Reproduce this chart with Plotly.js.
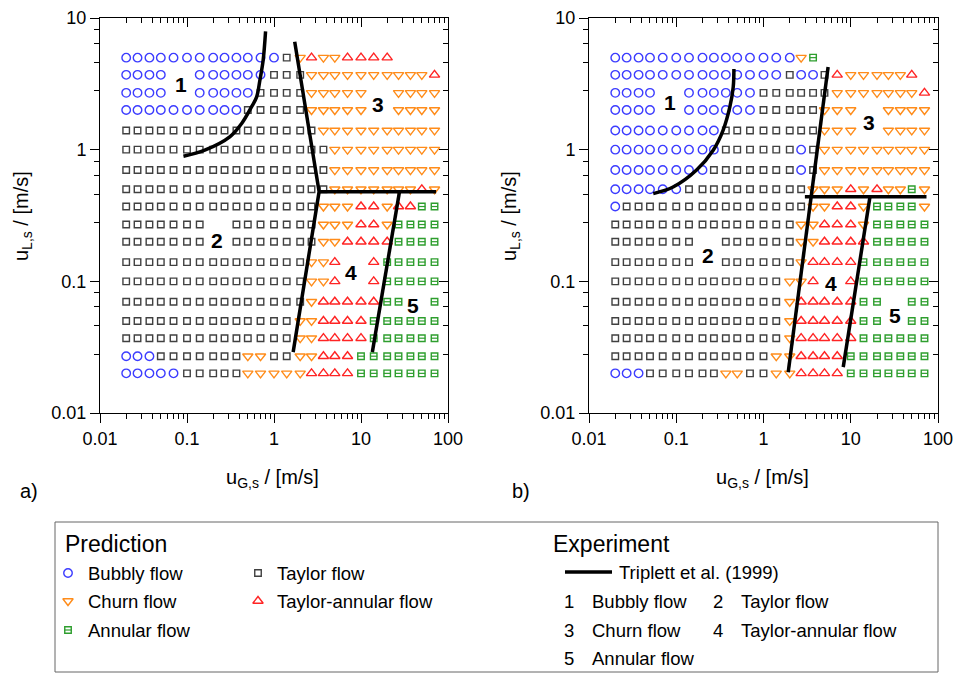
<!DOCTYPE html>
<html><head><meta charset="utf-8">
<script src="https://cdn.plot.ly/plotly-3.0.1.min.js"></script>
<style>html,body{margin:0;padding:0;background:#fff}#chart{width:955px;height:675px}</style>
</head><body><div id="chart"></div>
<script>
// ---------------- DATA ----------------
// superficial gas velocity grid (columns) and liquid velocity grid (rows), m/s
const uGs = [0.02,0.027,0.037,0.05,0.07,0.1,0.14,0.2,0.27,0.37,0.5,0.7,1,1.4,2,2.7,3.7,5,7,10,14,20,27,37,50,70];
const uLs = [5,3.7,2.7,2,1.4,1,0.7,0.5,0.37,0.27,0.2,0.14,0.1,0.07,0.05,0.037,0.027,0.02];
// predicted regime per cell: B bubbly, T Taylor, C churn, R Taylor-annular, A annular, . none
const predA = [
 "BBBBBBBBBBBBBTCRCCRRRR....",
 "BBBB..BBBBBBTTTCCCCCCCCCCR",
 "BBBB..BBBBBTTTTCCCCC..CCCC",
 "BBBBBBBBBBTTTTTCCCCC..CCCC",
 "TTTTTTTTTTTTTTTTCCCCCCCCCC",
 "TTTTTTTTTTTTTTTTTCCCCCCCCC",
 "TTTTTTTTTTTTTTTTTCCCCCCCCC",
 "TTTTTTTTTTTTTTTTTCCCCCCCRC",
 "TTTTTTTTTTTTTTTTCCCRRCRRAA",
 "TTTTTTT..TTTTTTTCCCRRCAAAA",
 "TTTTTTT..TTTTTTTCCRRRRAAAA",
 "TTTTTTTTTTTTTTTCCR..RAAAAA",
 "TTTTTTTTTTTTTTTCCR..RAAAAA",
 "TTTTTTTTTTTTTTTCRRRRRAA..A",
 "TTTTTTTTTTTTTTCCRRRRAAAAAA",
 "TTTTTTTTTTTTTTCCRRRRAAAAAA",
 "BBBTTTTTTTCCTTCCRRRAAAAAAA",
 "BBBBBTTTTTCCCCCRRRRAAAAAAA"
];
const predB = [
 "BBBBBBBBBBBBBBBCA.........",
 "BBBBBBBBBBBBBBTBBTRCCCCCR.",
 "BBBB..BBBBBBTTTTTTCCCCCCCR",
 "BBBB..BBBBBBTTTTTCCC..CCCC",
 "BBBBBBBBBTTTTTTTTCCC..CCCC",
 "BBBBBBBBBTTTTTTBTCCCCCCCCC",
 "BBBBBBBBTTTTTTTBTCCCCCCCCC",
 "BBBBBBTTTTTTTTTTCCCRCRCCAC",
 "BTTTTTTTTTTTTTTTCCRRCAAAAC",
 "TTTTTTTTTTTTTTTCCRRRCAAAAA",
 "TTTTTTT..TTTTTTCCRRRRAAAAA",
 "TTTTTTT..TTTTTTCRRRRAAAAAA",
 "TTTTTTTTTTTTTTCCR..RAAAAAA",
 "TTTTTTTTTTTTTTCRRRRRAA..AA",
 "TTTTTTTTTTTTTTCRRRRRAA..AA",
 "TTTTTTTTTTTTTTCRRRRRAAAAAA",
 "TTTTTTTTTTTTTCCRRRRAAAAAAA",
 "BBBTTTTTTCCTTCCRRRRAAAAAAA"
];
// Triplett et al. (1999) transition lines, panel a
const trA1x = [0.091,0.16,0.31,0.425,0.553,0.632,0.689,0.751,0.80];
const trA1y = [0.89,0.99,1.25,1.58,2.12,2.52,3.38,4.8,7.9];
const trA2x = [1.73,3.3,1.66];
const trA2y = [6.6,0.48,0.029];
const trA3x = [3.3,73];
const trA3y = [0.48,0.48];
const trA4x = [13.5,27.7];
const trA4y = [0.029,0.48];
// panel b
const trB1x = [0.0545,0.092,0.171,0.265,0.345,0.412,0.45,0.458];
const trB1y = [0.464,0.52,0.70,0.99,1.41,2.12,3.0,4.1];
const trB2x = [5.5,1.92];
const trB2y = [4.25,0.0204];
const trB3x = [2.98,73.8];
const trB3y = [0.438,0.438];
const trB4x = [8.2,16.6];
const trB4y = [0.0223,0.438];
// regime number labels
const zoneText = ['1','2','3','4','5'];
const zoneAx = [0.086,0.222,15.5,7.6,40];
const zoneAy = [3.15,0.205,2.22,0.117,0.066];
const zoneBx = [0.085,0.23,16.1,5.9,32];
const zoneBy = [2.3,0.158,1.62,0.097,0.055];
const tickVals = [0.01,0.1,1,10,100];
const tickText = ['0.01','0.1','1','10','100'];
const yTickVals = [0.01,0.1,1,10];
const yTickText = ['0.01','0.1','1','10'];

// ---------------- STYLE ----------------
const FONT = 'Liberation Sans, Arial, sans-serif';
const COL = {B:'#3c3cff', T:'#404040', C:'#ff8c1a', R:'#ff2424', A:'#2e9e2e'};
const regimes = {
  B:{symbol:'circle-open', size:8.5, color:COL.B},
  T:{symbol:'square-open', size:6.5, color:COL.T},
  C:{symbol:'triangle-down-open', size:9, color:COL.C},
  R:{symbol:'triangle-up-open', size:9, color:COL.R},
  A:{symbol:'square-open', size:6.5, color:COL.A}
};

const traces = [];
function addPanel(grid, xa, ya){
  ['B','T','C','R','A'].forEach(code=>{
    const xs=[], ys=[];
    grid.forEach((row,i)=>{ for(let j=0;j<row.length;j++){ if(row[j]===code){ xs.push(uGs[j]); ys.push(uLs[i]); } } });
    const st = regimes[code];
    traces.push({x:xs,y:ys,xaxis:xa,yaxis:ya,mode:'markers',type:'scatter',showlegend:false,hoverinfo:'skip',
      marker:{symbol:st.symbol,size:st.size,color:st.color,line:{width:1.4,color:st.color}}});
    if(code==='A'){
      traces.push({x:xs,y:ys,xaxis:xa,yaxis:ya,mode:'markers',type:'scatter',showlegend:false,hoverinfo:'skip',
        marker:{symbol:'line-ew-open',size:5,color:st.color,line:{width:1.2,color:st.color}}});
    }
  });
}
addPanel(predA,'x','y');
addPanel(predB,'x2','y2');

function addLine(xs,ys,xa,ya,spline){
  traces.push({x:xs,y:ys,xaxis:xa,yaxis:ya,mode:'lines',type:'scatter',showlegend:false,hoverinfo:'skip',
    line:{color:'#000',width:3.5,shape:spline?'spline':'linear'}});
}
addLine(trA1x,trA1y,'x','y',true);
addLine(trA2x,trA2y,'x','y',false);
addLine(trA3x,trA3y,'x','y',false);
addLine(trA4x,trA4y,'x','y',false);
addLine(trB1x,trB1y,'x2','y2',true);
addLine(trB2x,trB2y,'x2','y2',false);
addLine(trB3x,trB3y,'x2','y2',false);
addLine(trB4x,trB4y,'x2','y2',false);

// dummy traces so the mirrored (inside-tick) axes are drawn
traces.push({x:[null],y:[null],xaxis:'x3',yaxis:'y',mode:'markers',showlegend:false,hoverinfo:'skip'});
traces.push({x:[null],y:[null],xaxis:'x',yaxis:'y3',mode:'markers',showlegend:false,hoverinfo:'skip'});
traces.push({x:[null],y:[null],xaxis:'x4',yaxis:'y2',mode:'markers',showlegend:false,hoverinfo:'skip'});
traces.push({x:[null],y:[null],xaxis:'x2',yaxis:'y4',mode:'markers',showlegend:false,hoverinfo:'skip'});

// minor ticks
const xMinor=[], yMinor=[];
for(let e=-2;e<2;e++){ for(let k=2;k<=9;k++) xMinor.push(k*Math.pow(10,e)); }
for(let e=-2;e<1;e++){ [2.8,4.6,6.4,8.2].forEach(k=>yMinor.push(k*Math.pow(10,e))); }

const W=955,H=675;
const pxX = v=>v/W, pxY = v=>(H-v)/H;
const domA=[100/W,448/W], domB=[589/W,938/W], domY=[pxY(413),pxY(18)];

function xAx(dom, anchor){
  return {domain:dom,anchor:anchor,type:'log',range:[-2,2],autorange:false,tickmode:'array',tickvals:tickVals,ticktext:tickText,
    ticks:'outside',ticklen:9,tickwidth:1,tickcolor:'#000',showline:true,linecolor:'#000',linewidth:1,mirror:true,
    showgrid:false,zeroline:false,tickfont:{family:FONT,size:18,color:'#000'},
    minor:{tickmode:'array',tickvals:xMinor,ticks:'outside',ticklen:5,tickwidth:1,tickcolor:'#000',showgrid:false}};
}
function yAx(anchor){
  return {domain:domY,anchor:anchor,type:'log',range:[-2,1],autorange:false,tickmode:'array',tickvals:yTickVals,ticktext:yTickText,
    ticks:'outside',ticklen:9,tickwidth:1,tickcolor:'#000',showline:true,linecolor:'#000',linewidth:1,mirror:true,
    showgrid:false,zeroline:false,tickfont:{family:FONT,size:18,color:'#000'},
    minor:{tickmode:'array',tickvals:yMinor,ticks:'outside',ticklen:5,tickwidth:1,tickcolor:'#000',showgrid:false}};
}
function xTop(over, anchor){
  return {overlaying:over,anchor:anchor,side:'top',type:'log',range:[-2,2],autorange:false,tickmode:'array',tickvals:tickVals,
    ticks:'inside',ticklen:9,tickwidth:1,tickcolor:'#000',showticklabels:false,showline:false,showgrid:false,zeroline:false,
    minor:{tickmode:'array',tickvals:xMinor,ticks:'inside',ticklen:5,tickwidth:1,tickcolor:'#000',showgrid:false}};
}
function yRight(over, anchor){
  return {overlaying:over,anchor:anchor,side:'right',type:'log',range:[-2,1],autorange:false,tickmode:'array',tickvals:yTickVals,
    ticks:'inside',ticklen:9,tickwidth:1,tickcolor:'#000',showticklabels:false,showline:false,showgrid:false,zeroline:false,
    minor:{tickmode:'array',tickvals:yMinor,ticks:'inside',ticklen:5,tickwidth:1,tickcolor:'#000',showgrid:false}};
}

// legend subplot in pixel coordinates
const legX=[55,938], legY=[522,672];
traces.push({x:[68],y:[573],xaxis:'x5',yaxis:'y5',mode:'markers',showlegend:false,hoverinfo:'skip',marker:{symbol:regimes.B.symbol,size:regimes.B.size,color:COL.B,line:{width:1.4,color:COL.B}}});
traces.push({x:[258],y:[573],xaxis:'x5',yaxis:'y5',mode:'markers',showlegend:false,hoverinfo:'skip',marker:{symbol:regimes.T.symbol,size:regimes.T.size,color:COL.T,line:{width:1.4,color:COL.T}}});
traces.push({x:[68],y:[601],xaxis:'x5',yaxis:'y5',mode:'markers',showlegend:false,hoverinfo:'skip',marker:{symbol:regimes.C.symbol,size:regimes.C.size,color:COL.C,line:{width:1.4,color:COL.C}}});
traces.push({x:[258],y:[601],xaxis:'x5',yaxis:'y5',mode:'markers',showlegend:false,hoverinfo:'skip',marker:{symbol:regimes.R.symbol,size:regimes.R.size,color:COL.R,line:{width:1.4,color:COL.R}}});
traces.push({x:[68],y:[630],xaxis:'x5',yaxis:'y5',mode:'markers',showlegend:false,hoverinfo:'skip',marker:{symbol:regimes.A.symbol,size:regimes.A.size,color:COL.A,line:{width:1.4,color:COL.A}}});
traces.push({x:[68],y:[630],xaxis:'x5',yaxis:'y5',mode:'markers',showlegend:false,hoverinfo:'skip',marker:{symbol:'line-ew-open',size:5,color:COL.A,line:{width:1.2,color:COL.A}}});
traces.push({x:[565,612],y:[572,572],xaxis:'x5',yaxis:'y5',mode:'lines',showlegend:false,hoverinfo:'skip',line:{color:'#000',width:3.5}});

const ann = [];
function txt(t,x,y,size,opt){ ann.push(Object.assign({text:t,xref:'paper',yref:'paper',x:pxX(x),y:pxY(y),xanchor:'left',yanchor:'middle',showarrow:false,font:{family:FONT,size:size,color:'#000'}},opt||{})); }
zoneText.forEach((t,i)=>{
  ann.push({text:t,xref:'x',yref:'y',x:Math.log10(zoneAx[i]),y:Math.log10(zoneAy[i]),showarrow:false,font:{family:FONT,size:21,color:'#000',weight:'bold'}});
  ann.push({text:t,xref:'x2',yref:'y2',x:Math.log10(zoneBx[i]),y:Math.log10(zoneBy[i]),showarrow:false,font:{family:FONT,size:21,color:'#000',weight:'bold'}});
});
const xTitle='u<sub>G,s</sub> / [m/s]', yTitle='u<sub>L,s</sub> / [m/s]';
txt(xTitle,272,478,20,{xanchor:'center'});
txt(xTitle,762,478,20,{xanchor:'center'});
txt(yTitle,23,216,20,{xanchor:'center',textangle:-90});
txt(yTitle,511,216,20,{xanchor:'center',textangle:-90});
txt('a)',18,491,20);
txt('b)',510,491,20);
// legend text
txt('Prediction',63,544,23);
txt('Bubbly flow',86,573,18.5);
txt('Taylor flow',275,573,18.5);
txt('Churn flow',86,601,18.5);
txt('Taylor-annular flow',275,601,18.5);
txt('Annular flow',86,630,18.5);
txt('Experiment',551,544,23);
txt('Triplett et al. (1999)',617,572,18.5);
txt('1',562,601,18.5); txt('Bubbly flow',590,601,18.5);
txt('2',711,601,18.5); txt('Taylor flow',739,601,18.5);
txt('3',562,630,18.5); txt('Churn flow',590,630,18.5);
txt('4',711,630,18.5); txt('Taylor-annular flow',739,630,18.5);
txt('5',562,658,18.5); txt('Annular flow',590,658,18.5);

const layout = {
  width:W,height:H,margin:{l:0,r:0,t:0,b:0},paper_bgcolor:'#fff',plot_bgcolor:'rgba(0,0,0,0)',showlegend:false,
  font:{family:FONT,color:'#000'},
  xaxis:xAx(domA,'y'), yaxis:yAx('x'),
  xaxis2:xAx(domB,'y2'), yaxis2:yAx('x2'),
  xaxis3:xTop('x','y'), yaxis3:yRight('y','x'),
  xaxis4:xTop('x2','y2'), yaxis4:yRight('y2','x2'),
  xaxis5:{domain:[legX[0]/W,legX[1]/W],anchor:'y5',range:legX,visible:false,autorange:false},
  yaxis5:{domain:[pxY(legY[1]),pxY(legY[0])],anchor:'x5',range:[legY[1],legY[0]],visible:false,autorange:false},
  shapes:[{type:'rect',xref:'paper',yref:'paper',x0:pxX(legX[0]),x1:pxX(legX[1]),y0:pxY(legY[1]),y1:pxY(legY[0]),line:{color:'#666',width:1},fillcolor:'rgba(0,0,0,0)'}],
  annotations:ann
};
Plotly.newPlot('chart',traces,layout,{displayModeBar:false,staticPlot:true});
</script></body></html>
